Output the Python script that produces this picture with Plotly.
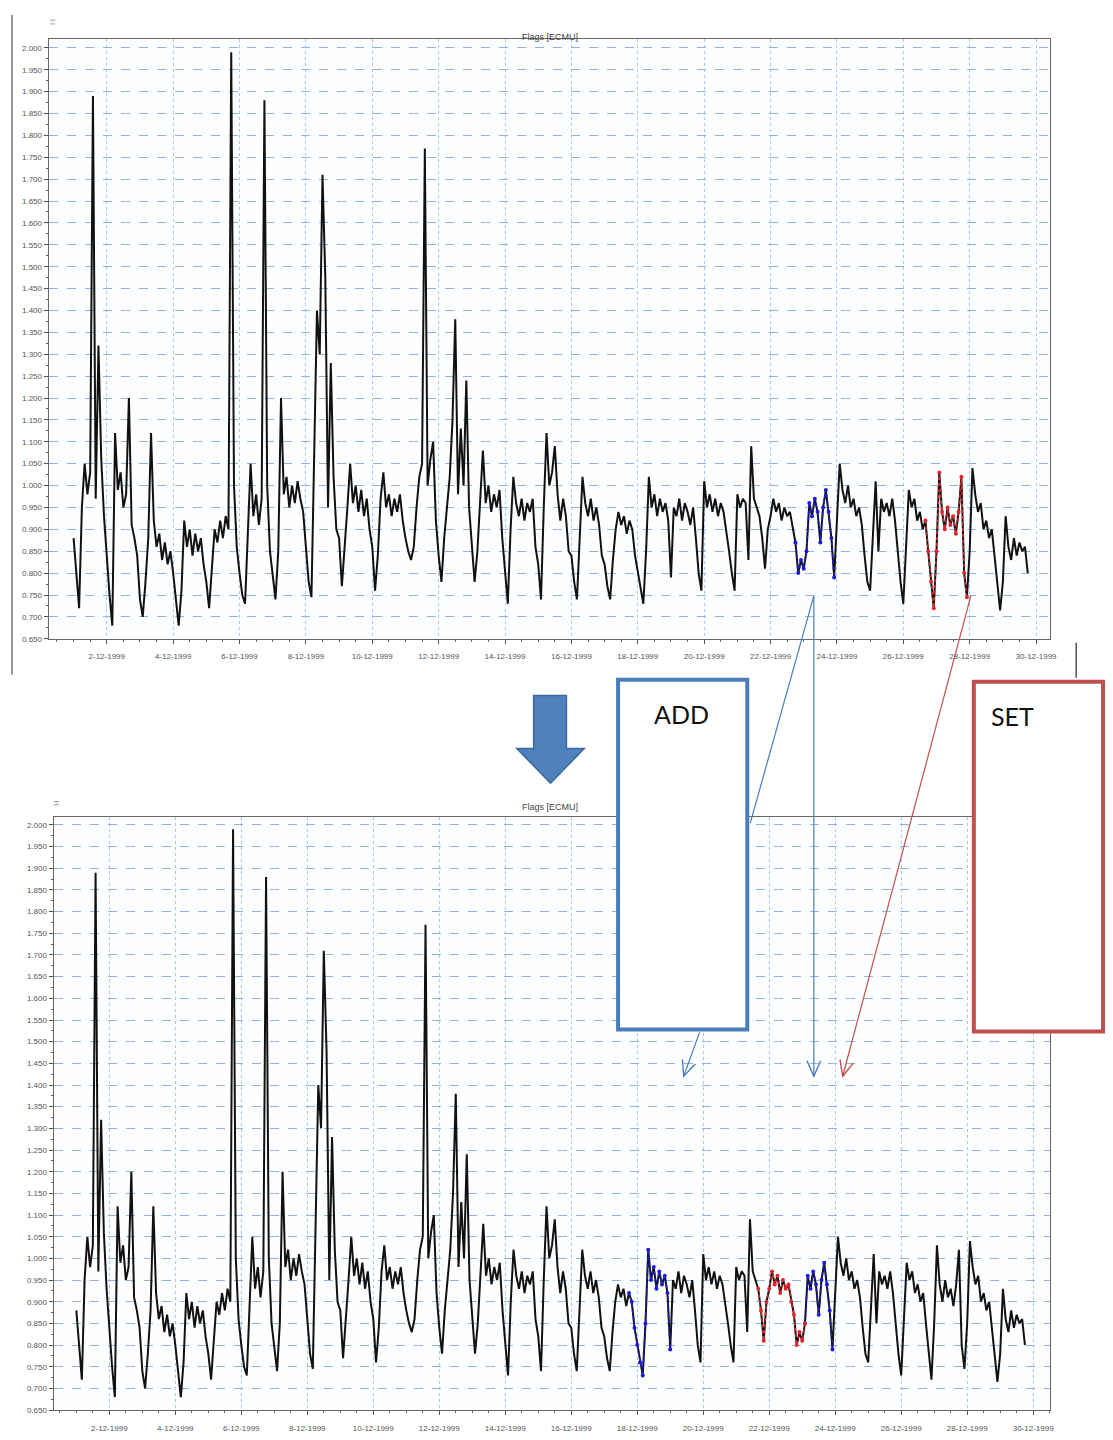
import math
import pandas as pd
import plotly.graph_objects as go

# ---------------- data (2-hourly readings) ----------------
START = "1999-12-01 00:00"
DAY01 = [0.88, 0.80, 0.72, 0.95, 1.05, 0.98, 1.03, 1.89, 0.97, 1.32, 1.06, 0.93]
DAY02 = [0.83, 0.75, 0.68, 1.12, 0.99, 1.03, 0.95, 0.98, 1.20, 0.91, 0.88, 0.84]
DAY03 = [0.74, 0.70, 0.78, 0.88, 1.12, 0.92, 0.86, 0.89, 0.83, 0.87, 0.82, 0.85]
DAY04 = [0.80, 0.74, 0.68, 0.76, 0.92, 0.86, 0.90, 0.84, 0.89, 0.85, 0.88, 0.82]
DAY05 = [0.78, 0.72, 0.80, 0.90, 0.87, 0.92, 0.88, 0.93, 0.90, 1.99, 1.00, 0.86]
DAY06 = [0.80, 0.75, 0.73, 0.90, 1.05, 0.93, 0.98, 0.91, 0.97, 1.88, 1.00, 0.85]
DAY07 = [0.80, 0.74, 0.85, 1.20, 0.98, 1.02, 0.95, 1.00, 0.96, 1.01, 0.97, 0.94]
DAY08 = [0.86, 0.78, 0.745, 1.05, 1.40, 1.30, 1.71, 1.48, 0.95, 1.28, 1.02, 0.90]
DAY09 = [0.88, 0.77, 0.85, 0.95, 1.05, 0.96, 1.00, 0.94, 0.99, 0.93, 0.97, 0.90]
DAY10 = [0.86, 0.76, 0.84, 0.97, 1.03, 0.95, 0.98, 0.93, 0.97, 0.94, 0.98, 0.92]
DAY11 = [0.88, 0.85, 0.83, 0.86, 0.95, 1.02, 1.05, 1.77, 1.00, 1.06, 1.10, 0.92]
DAY12 = [0.84, 0.78, 0.88, 0.96, 1.02, 1.15, 1.38, 0.98, 1.13, 1.00, 1.24, 0.95]
DAY13 = [0.86, 0.78, 0.85, 0.96, 1.08, 0.96, 1.00, 0.94, 0.98, 0.95, 0.99, 0.88]
DAY14 = [0.80, 0.73, 0.90, 1.02, 0.96, 0.93, 0.97, 0.92, 0.96, 0.94, 0.97, 0.86]
DAY15 = [0.82, 0.74, 0.95, 1.12, 1.00, 1.03, 1.09, 0.98, 0.92, 0.97, 0.93, 0.85]
DAY16 = [0.84, 0.78, 0.74, 0.88, 1.02, 0.96, 0.93, 0.97, 0.92, 0.95, 0.91, 0.84]
DAY17 = [0.82, 0.77, 0.74, 0.83, 0.90, 0.94, 0.91, 0.93, 0.89, 0.92, 0.90, 0.84]
DAY18 = [0.80, 0.76, 0.73, 0.85, 1.02, 0.95, 0.98, 0.93, 0.97, 0.94, 0.96, 0.92]
DAY19 = [0.79, 0.95, 0.93, 0.97, 0.92, 0.96, 0.94, 0.91, 0.95, 0.88, 0.80, 0.76]
DAY20 = [1.01, 0.95, 0.98, 0.94, 0.97, 0.93, 0.96, 0.94, 0.90, 0.85, 0.80, 0.76]
DAY21 = [0.98, 0.95, 0.97, 0.96, 0.83, 1.09, 0.97, 0.95, 0.93, 0.88, 0.81, 0.90]
DAY22 = [0.93, 0.97, 0.94, 0.96, 0.92, 0.95, 0.93, 0.94, 0.90, 0.87, 0.80, 0.83]
DAY23 = [0.81, 0.85, 0.96, 0.93, 0.97, 0.94, 0.87, 0.95, 0.99, 0.94, 0.88, 0.79]
DAY24 = [0.92, 1.05, 0.99, 0.96, 1.00, 0.95, 0.97, 0.93, 0.95, 0.91, 0.84, 0.78]
DAY25 = [0.76, 0.88, 1.01, 0.85, 0.97, 0.94, 0.96, 0.93, 0.97, 0.92, 0.85, 0.78]
DAY26 = [0.73, 0.85, 0.99, 0.95, 0.97, 0.92, 0.94, 0.90, 0.92, 0.85, 0.78, 0.72]
DAY27 = [0.85, 1.03, 0.94, 0.90, 0.95, 0.91, 0.93, 0.89, 0.94, 1.02, 0.80, 0.745]
DAY28 = [0.85, 1.04, 0.98, 0.94, 0.96, 0.90, 0.92, 0.88, 0.90, 0.84, 0.78, 0.715]
DAY29 = [0.78, 0.93, 0.86, 0.83, 0.88, 0.84, 0.87, 0.85, 0.86, 0.80]

DAYS = [DAY01, DAY02, DAY03, DAY04, DAY05, DAY06, DAY07, DAY08, DAY09, DAY10,
        DAY11, DAY12, DAY13, DAY14, DAY15, DAY16, DAY17, DAY18, DAY19, DAY20,
        DAY21, DAY22, DAY23, DAY24, DAY25, DAY26, DAY27, DAY28, DAY29]

# flagged periods
TOP_ADD = ("1999-12-22 18:00", "1999-12-23 22:00")
TOP_SET = ("1999-12-26 16:00", "1999-12-27 22:00")
BOT_ADD = [("1999-12-17 18:00", "1999-12-19 00:00"), ("1999-12-23 02:00", "1999-12-23 22:00")]
BOT_SET = [("1999-12-21 16:00", "1999-12-23 02:00")]

TITLE = "Flags [ECMU]"
UNIT = "[-]"

values = [v for d in DAYS for v in d]
times = pd.date_range(START, periods=len(values), freq="2h")
s = pd.Series(values, index=times)

W, H = 1113, 1440
def px(x): return x / W
def py(y): return 1 - y / H

BLACK = "#111111"
BLUE = "#1c1cd6"
RED = "#e0262b"
ADDC = "#4a7ebb"
SETC = "#c0504d"

fig = go.Figure()

def add_series(xa, ya, add_segs, set_segs):
    fig.add_trace(go.Scatter(x=s.index, y=s.values, mode="lines",
                             line=dict(color=BLACK, width=2.0),
                             xaxis=xa, yaxis=ya, showlegend=False))
    for segs, col in ((add_segs, BLUE), (set_segs, RED)):
        for a, b in segs:
            seg = s[a:b]
            fig.add_trace(go.Scatter(x=seg.index, y=seg.values, mode="lines+markers",
                                     line=dict(color=col, width=1.6, dash="dot"),
                                     marker=dict(color=col, size=4),
                                     xaxis=xa, yaxis=ya, showlegend=False))

add_series("x", "y", [TOP_ADD], [TOP_SET])
add_series("x2", "y2", BOT_ADD, BOT_SET)

axis_font = dict(family="Liberation Sans, Arial", size=8, color="#555")
common_x = dict(type="date", tick0="1999-12-02", dtick=2 * 86400000,
                tickformat="%-d-%m-%Y", showgrid=True, gridcolor="#a9c7ec",
                griddash="dot", gridwidth=1, ticks="outside", ticklen=4,
                tickcolor="#555", showline=True, linecolor="#666", linewidth=1.2,
                mirror=True, tickfont=axis_font, ticklabelstandoff=6,
                minor=dict(dtick=43200000, ticks="outside", ticklen=2, tickcolor="#666", showgrid=False),
                zeroline=False)
common_y = dict(dtick=0.05, tick0=0.65, tickformat=".3f", showgrid=True,
                gridcolor="#8fb3e2", griddash="dash", gridwidth=1,
                ticks="outside", ticklen=4, tickcolor="#555", showline=True,
                linecolor="#666", linewidth=1.2, mirror=True, tickfont=axis_font,
                minor=dict(dtick=0.025, ticks="outside", ticklen=2, tickcolor="#666", showgrid=False),
                zeroline=False)

fig.update_layout(
    width=W, height=H, margin=dict(l=0, r=0, t=0, b=0),
    paper_bgcolor="white", plot_bgcolor="#fdfeff",
    xaxis=dict(common_x, domain=[px(49), px(1057)], anchor="y",
               range=["1999-11-30 06:00", "1999-12-30 10:20"]),
    yaxis=dict(common_y, domain=[py(641), py(39)], anchor="x", range=[0.65, 2.0205]),
    xaxis2=dict(common_x, domain=[px(54), px(1057)], anchor="y2",
                range=["1999-11-30 07:30", "1999-12-30 12:30"]),
    yaxis2=dict(common_y, domain=[py(1415), py(820)], anchor="x2", range=[0.65, 2.018]),
)

ann = []
shapes = []
# chart titles and unit labels
for ty, uy, ux in ((30, 17, 47), (810, 806, 52)):
    ann.append(dict(x=px(553), y=py(ty), xref="paper", yref="paper", text=TITLE,
                    showarrow=False, font=dict(family="Liberation Sans, Arial", size=9, color="#444")))
    ann.append(dict(x=px(ux), y=py(uy), xref="paper", yref="paper", text=UNIT, textangle=-90,
                    showarrow=False, font=dict(family="Liberation Sans, Arial", size=6, color="#555")))

# screenshot frame lines
shapes.append(dict(type="line", xref="paper", yref="paper", x0=px(12), x1=px(12), y0=py(15), y1=py(677),
                   line=dict(color="#777", width=1.5)))
shapes.append(dict(type="line", xref="paper", yref="paper", x0=px(1083), x1=px(1083), y0=py(645), y1=py(680),
                   line=dict(color="#555", width=1.5)))

def ppath(pts):
    return "M " + " L ".join(f"{px(x):.5f},{py(y):.5f}" for x, y in pts) + " Z"

def ppath_open(pts):
    return "M " + " L ".join(f"{px(x):.5f},{py(y):.5f}" for x, y in pts)

# big down arrow
shapes.append(dict(type="path", xref="paper", yref="paper", layer="above",
                   path=ppath([(537, 698), (570, 698), (570, 751), (588, 751), (554, 786), (520, 751), (537, 751)]),
                   fillcolor="#4f81bd", line=dict(color="#3b6aa0", width=1.5)))

def arrow(x0, y0, x1, y1, color, head=True):
    shapes.append(dict(type="line", xref="paper", yref="paper", layer="above",
                       x0=px(x0), y0=py(y0), x1=px(x1), y1=py(y1), line=dict(color=color, width=1.2)))
    if head:
        ang = math.atan2(y1 - y0, x1 - x0)
        L, a = 17, math.radians(24)
        p1 = (x1 - L * math.cos(ang - a), y1 - L * math.sin(ang - a))
        p2 = (x1 - L * math.cos(ang + a), y1 - L * math.sin(ang + a))
        shapes.append(dict(type="path", xref="paper", yref="paper", layer="above",
                           path=ppath_open([p1, (x1, y1), p2]), line=dict(color=color, width=1.4)))

# ADD and SET boxes
shapes.append(dict(type="rect", xref="paper", yref="paper", layer="above",
                   x0=px(622), x1=px(752), y0=py(682), y1=py(1033),
                   fillcolor="white", line=dict(color=ADDC, width=4)))
shapes.append(dict(type="rect", xref="paper", yref="paper", layer="above",
                   x0=px(980), x1=px(1110), y0=py(684), y1=py(1035),
                   fillcolor="white", line=dict(color=SETC, width=4)))
ann.append(dict(x=px(686), y=py(716), xref="paper", yref="paper", text="ADD", showarrow=False,
                font=dict(family="Lato, Open Sans", size=25, color="#111")))
ann.append(dict(x=px(1043), y=py(718), xref="paper", yref="paper", text="SET", showarrow=False,
                font=dict(family="Lato, Open Sans", size=25, color="#111")))

# connector arrows
arrow(819, 598, 755, 826, ADDC, head=False)
arrow(819, 598, 819, 1080, ADDC)
arrow(704, 1036, 688, 1080, ADDC)
arrow(977, 598, 848, 1080, SETC)

fig.update_layout(shapes=shapes, annotations=ann)
fig.write_html("out.html", config={"displayModeBar": False},
               post_script="document.body.style.margin='0px';document.body.style.overflow='hidden';")
